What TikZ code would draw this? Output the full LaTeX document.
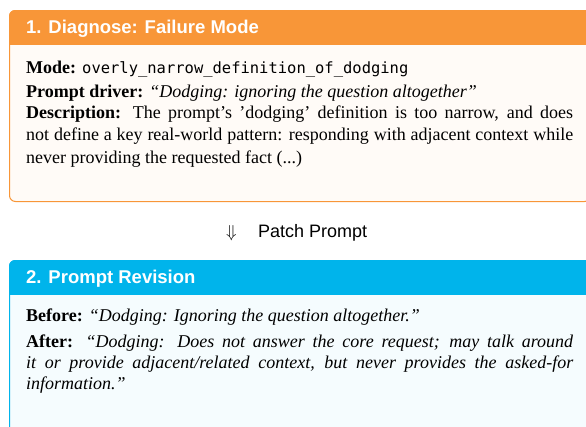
\documentclass[tikz,border=0pt]{standalone}
\usepackage{fontspec}
\setmainfont{Liberation Serif}
\setsansfont{Liberation Sans}
\setmonofont[Scale=0.86]{DejaVu Sans Mono}
\usetikzlibrary{positioning, calc}
\definecolor{diagorange}{RGB}{248, 150, 56}
\definecolor{revisioncyan}{RGB}{0, 180, 235}

\begin{document}
\begin{tikzpicture}[
    x=1pt, y=1pt,
    % Node styles
    panel/.style={
        rectangle,
        rounded corners=6pt,
        draw=#1,
        fill=#1!4,
        line width=1pt,
        anchor=north west,
        minimum width=581pt,
        inner sep=0pt
    },
    headtext/.style={
        font=\fontsize{18.5}{22}\selectfont\sffamily\bfseries,
        text=white,
        anchor=base west,
        inner sep=0pt
    },
    bodytext/.style={
        font=\fontsize{18}{22}\selectfont,
        anchor=base west,
        inner sep=0pt
    },
    steplabel/.style={
        font=\fontsize{18}{22}\selectfont\sffamily,
        inner sep=0pt
    }
]
\clip (0,0) rectangle (586,-426);

% ============================================
% STEP 1: DIAGNOSE
% ============================================
\node[panel=diagorange, minimum height=191pt] (diagbox) at (9,-10) {};
\begin{scope}
    \clip[rounded corners=6pt] (diagbox.north west) rectangle (diagbox.south east);
    \fill[diagorange] (diagbox.north west) rectangle ([yshift=-35pt]diagbox.north east);
\end{scope}
\node[headtext] (diaghead) at (26,-33) {1. Diagnose: Failure Mode};

\node[bodytext] (mode) at (26,-73) {\textbf{Mode:} \texttt{overly\_narrow\_definition\_of\_dodging}};
\node[bodytext] (driver) at (26,-97) {\textbf{Prompt driver:} \textit{“Dodging: ignoring the question altogether”}};
\node[bodytext] (desc) at (26,-118) {\parbox[t]{547pt}{\baselineskip=22.5pt\textbf{Description:} The prompt’s ’dodging’ definition is too narrow, and does\linebreak not define a key real-world pattern: responding with adjacent context while\linebreak never providing the requested fact (...)}};

% ============================================
% TRANSITION
% ============================================
\node[steplabel, anchor=base west] (patch) at (258,-237) {Patch Prompt};
\node[steplabel, base left=21pt of patch] (down) {$\Downarrow$};

% ============================================
% STEP 2: REVISION
% ============================================
\node[panel=revisioncyan, minimum height=180pt] (revbox) at (9,-260) {};
\begin{scope}
    \clip[rounded corners=6pt] (revbox.north west) rectangle (revbox.south east);
    \fill[revisioncyan] (revbox.north west) rectangle ([yshift=-35pt]revbox.north east);
\end{scope}
\node[headtext] (revhead) at (26,-283) {2. Prompt Revision};

\node[bodytext] (before) at (26,-321) {\textbf{Before:} \textit{“Dodging: Ignoring the question altogether.”}};
\node[bodytext] (after) at (26,-347) {\parbox[t]{547pt}{\baselineskip=21pt\textbf{After:} \textit{“Dodging: Does not answer the core request; may talk around\linebreak it or provide adjacent/related context, but never provides the asked-for\linebreak information.”}}};

\end{tikzpicture}
\end{document}
